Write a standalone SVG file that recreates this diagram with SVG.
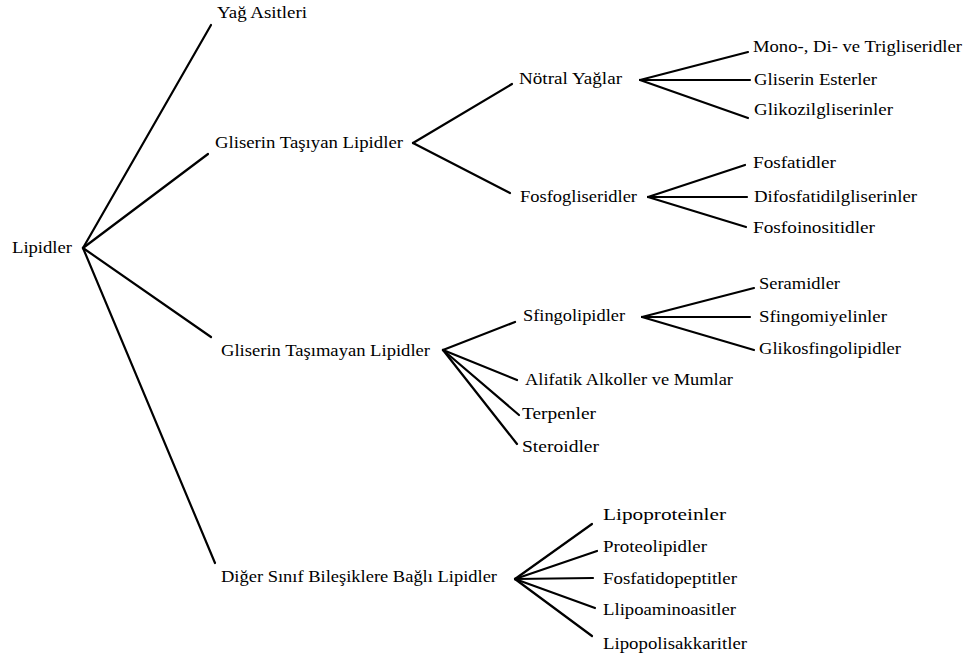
<svg xmlns="http://www.w3.org/2000/svg" width="971" height="660" viewBox="0 0 971 660">
<style>
.t text{font-family:"Liberation Serif","Times New Roman",serif;font-size:16px;fill:#000;}
.c line{stroke:#000;stroke-width:2.2;stroke-linecap:round;}
</style>
<rect width="971" height="660" fill="#fff"/>
<g class="c" id="connectors">
<line x1="83" y1="248" x2="211" y2="25"/>
<line x1="83" y1="248" x2="208" y2="154"/>
<line x1="83" y1="248" x2="211" y2="337"/>
<line x1="83" y1="248" x2="215" y2="563"/>
<line x1="413" y1="143" x2="512" y2="84"/>
<line x1="413" y1="143" x2="510" y2="193"/>
<line x1="640" y1="80" x2="748" y2="52"/>
<line x1="640" y1="80" x2="750" y2="80"/>
<line x1="640" y1="80" x2="748" y2="118"/>
<line x1="648" y1="197" x2="745" y2="165"/>
<line x1="648" y1="197" x2="747" y2="197"/>
<line x1="648" y1="197" x2="746" y2="227"/>
<line x1="443" y1="350" x2="515" y2="322"/>
<line x1="443" y1="350" x2="517" y2="380"/>
<line x1="443" y1="350" x2="519" y2="415"/>
<line x1="443" y1="350" x2="517" y2="444"/>
<line x1="642" y1="317" x2="754" y2="288"/>
<line x1="642" y1="317" x2="750" y2="317"/>
<line x1="642" y1="317" x2="754" y2="350"/>
<line x1="515" y1="579" x2="592" y2="524"/>
<line x1="515" y1="579" x2="597" y2="551"/>
<line x1="515" y1="579" x2="593" y2="578"/>
<line x1="515" y1="579" x2="595" y2="608"/>
<line x1="515" y1="579" x2="592" y2="636"/>
</g>
<g class="t">
<g id="n-lipidler"><text x="12" y="253" textLength="60" lengthAdjust="spacingAndGlyphs">Lipidler</text></g>
<g id="n-yag"><text x="217" y="18" textLength="90" lengthAdjust="spacingAndGlyphs">Yağ Asitleri</text></g>
<g id="n-gt"><text x="215" y="148" textLength="188" lengthAdjust="spacingAndGlyphs">Gliserin Taşıyan Lipidler</text></g>
<g id="n-gtm"><text x="221" y="356" textLength="209" lengthAdjust="spacingAndGlyphs">Gliserin Taşımayan Lipidler</text></g>
<g id="n-diger"><text x="221" y="582" textLength="276" lengthAdjust="spacingAndGlyphs">Diğer Sınıf Bileşiklere Bağlı Lipidler</text></g>
<g id="n-notral"><text x="519" y="84" textLength="103" lengthAdjust="spacingAndGlyphs">Nötral Yağlar</text></g>
<g id="n-fosfo"><text x="520" y="202" textLength="117" lengthAdjust="spacingAndGlyphs">Fosfogliseridler</text></g>
<g id="n-mono"><text x="753" y="52" textLength="209" lengthAdjust="spacingAndGlyphs">Mono-, Di- ve Trigliseridler</text></g>
<g id="n-esterler"><text x="754" y="85" textLength="123" lengthAdjust="spacingAndGlyphs">Gliserin Esterler</text></g>
<g id="n-glikozil"><text x="754" y="115" textLength="139" lengthAdjust="spacingAndGlyphs">Glikozilgliserinler</text></g>
<g id="n-fosfatidler"><text x="753" y="168" textLength="83" lengthAdjust="spacingAndGlyphs">Fosfatidler</text></g>
<g id="n-difosf"><text x="754" y="202" textLength="163" lengthAdjust="spacingAndGlyphs">Difosfatidilgliserinler</text></g>
<g id="n-fosfoino"><text x="753" y="233" textLength="122" lengthAdjust="spacingAndGlyphs">Fosfoinositidler</text></g>
<g id="n-sfingo"><text x="523" y="321" textLength="102" lengthAdjust="spacingAndGlyphs">Sfingolipidler</text></g>
<g id="n-seramid"><text x="759" y="289" textLength="81" lengthAdjust="spacingAndGlyphs">Seramidler</text></g>
<g id="n-sfingomiyel"><text x="759" y="322" textLength="128" lengthAdjust="spacingAndGlyphs">Sfingomiyelinler</text></g>
<g id="n-glikosf"><text x="759" y="354" textLength="142" lengthAdjust="spacingAndGlyphs">Glikosfingolipidler</text></g>
<g id="n-alifatik"><text x="525" y="385" textLength="208" lengthAdjust="spacingAndGlyphs">Alifatik Alkoller ve Mumlar</text></g>
<g id="n-terpen"><text x="522" y="419" textLength="74" lengthAdjust="spacingAndGlyphs">Terpenler</text></g>
<g id="n-steroid"><text x="522" y="452" textLength="77" lengthAdjust="spacingAndGlyphs">Steroidler</text></g>
<g id="n-lipoprot"><text x="603" y="520" textLength="123" lengthAdjust="spacingAndGlyphs">Lipoproteinler</text></g>
<g id="n-proteo"><text x="603" y="552" textLength="104" lengthAdjust="spacingAndGlyphs">Proteolipidler</text></g>
<g id="n-fosfatido"><text x="603" y="584" textLength="134" lengthAdjust="spacingAndGlyphs">Fosfatidopeptitler</text></g>
<g id="n-llipo"><text x="603" y="615" textLength="133" lengthAdjust="spacingAndGlyphs">Llipoaminoasitler</text></g>
<g id="n-lipopoli"><text x="603" y="649" textLength="144" lengthAdjust="spacingAndGlyphs">Lipopolisakkaritler</text></g>
</g>
</svg>
